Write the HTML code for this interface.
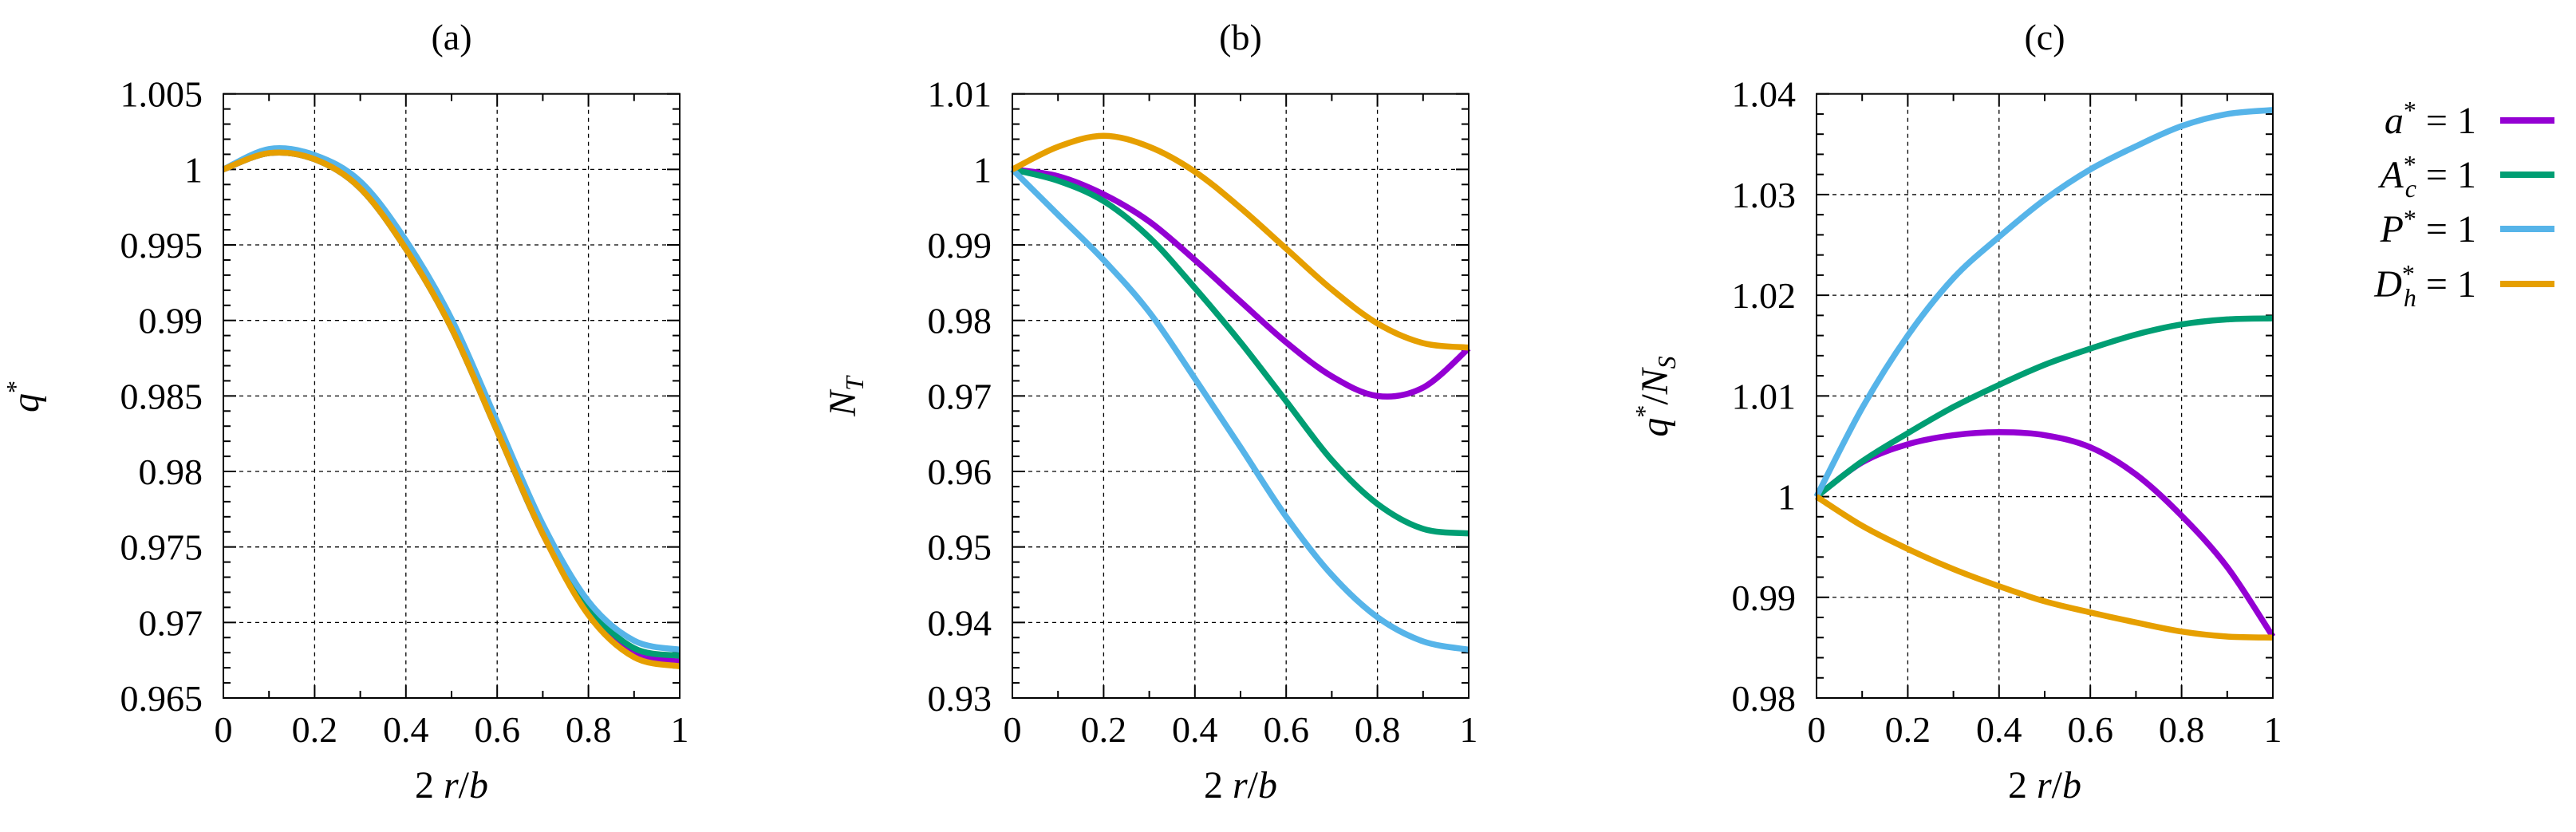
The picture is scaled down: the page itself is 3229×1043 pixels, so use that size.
<!DOCTYPE html>
<html><head><meta charset="utf-8"><style>
html,body{margin:0;padding:0;background:#fff;}
svg{display:block;font-family:"Liberation Serif",serif;}
</style></head><body>
<svg id="fig" width="3229" height="1043" viewBox="0 0 3229 1043" xmlns="http://www.w3.org/2000/svg"></svg>
<script>
const xs = [0,0.1,0.2,0.3,0.4,0.5,0.6,0.7,0.8,0.9,1.0];
const xTickLabels = ["0","0.2","0.4","0.6","0.8","1"];
// Panel a
const aPurple = [1.0,1.00108,1.00067,0.99875,0.99473,0.98948,0.98267,0.97586,0.9707,0.9680,0.9674];
const aGreen  = [1.0,1.00108,1.00067,0.99875,0.99473,0.98948,0.98267,0.97590,0.9710,0.9683,0.9678];
const aBlue   = [1.0,1.00135,1.00095,0.9992,0.9953,0.9901,0.9833,0.9765,0.9714,0.9688,0.9682];
const aOrange = [1.0,1.00108,1.00067,0.99875,0.99473,0.98948,0.98267,0.97586,0.9705,0.9677,0.9671];
const aTicks = ["1.005","1","0.995","0.99","0.985","0.98","0.975","0.97","0.965"];
// Panel b
const bPurple = [1.0,0.9991,0.9967,0.9931,0.9880,0.9825,0.9771,0.9726,0.9700,0.9711,0.9763];
const bGreen  = [1.0,0.9985,0.9958,0.9910,0.9843,0.9771,0.9693,0.9615,0.9557,0.9524,0.9518];
const bBlue   = [1.0,0.9940,0.9880,0.9811,0.9723,0.9632,0.9540,0.9463,0.9407,0.9375,0.9364];
const bOrange = [1.0,1.0030,1.00445,1.0030,0.9997,0.9949,0.9895,0.9841,0.9796,0.9770,0.9764];
const bTicks = ["1.01","1","0.99","0.98","0.97","0.96","0.95","0.94","0.93"];
// Panel c
const cPurple = [1.0,1.0034,1.0052,1.0061,1.0064,1.0061,1.0049,1.0022,0.9981,0.9930,0.9861];
const cGreen  = [1.0,1.0035,1.0063,1.0089,1.0111,1.0131,1.0147,1.0161,1.0171,1.0176,1.0177];
const cBlue   = [1.0,1.0088,1.0160,1.0217,1.0258,1.0295,1.0325,1.0348,1.0368,1.0380,1.0384];
const cOrange = [1.0,0.9971,0.9948,0.9928,0.9911,0.9896,0.9885,0.9875,0.9866,0.9861,0.9860];
const cTicks = ["1.04","1.03","1.02","1.01","1","0.99","0.98"];

const NS="http://www.w3.org/2000/svg";
const svg=document.getElementById('fig');
const COLORS={purple:"#9400d3",green:"#009e73",blue:"#56b4e9",orange:"#e69f00"};
function el(tag,attrs,parent){const e=document.createElementNS(NS,tag);for(const k in attrs)e.setAttribute(k,attrs[k]);(parent||svg).appendChild(e);return e;}

function panel(id,L,R,ymax,ymin,yTicks,series,title,ylabelFn,ylx){
  const T=117.7,B=875;
  const g=el('g',{});
  
  
  const X=v=>L+(R-L)*v;
  const Y=v=>T+(B-T)*(ymax-v)/(ymax-ymin);
  const n=yTicks.length-1, step=(ymax-ymin)/n;
  for(let i=1;i<5;i++){const gl=el('line',{x1:X(i*0.2),x2:X(i*0.2),y1:T,y2:B,stroke:"#000","stroke-width":1.3,"stroke-dasharray":"5,5"},g);}
  for(let i=1;i<n;i++){const yy=Y(ymax-i*step);const gl=el('line',{x1:L,x2:R,y1:yy,y2:yy,stroke:"#000","stroke-width":1.3,"stroke-dasharray":"5,5"},g);}
  for(let i=0;i<=10;i++){const len=i%2==0?16:9;const xx=X(i/10);
    el('line',{x1:xx,x2:xx,y1:B,y2:B-len,stroke:"#000","stroke-width":2},g);
    el('line',{x1:xx,x2:xx,y1:T,y2:T+len,stroke:"#000","stroke-width":2},g);}
  for(let i=0;i<=n*5;i++){const len=i%5==0?16:9;const yy=Y(ymax-i*step/5);
    el('line',{x1:L,x2:L+len,y1:yy,y2:yy,stroke:"#000","stroke-width":2},g);
    el('line',{x1:R,x2:R-len,y1:yy,y2:yy,stroke:"#000","stroke-width":2},g);}
  series.forEach(s=>{
    const pts=xs.map((x,i)=>[X(x),Y(s.v[i])]);
    let d="M"+pts[0][0]+","+pts[0][1];
    for(let i=0;i<pts.length-1;i++){
      const p0=pts[Math.max(0,i-1)],p1=pts[i],p2=pts[i+1],p3=pts[Math.min(pts.length-1,i+2)];
      const c1=[p1[0]+(p2[0]-p0[0])/6,p1[1]+(p2[1]-p0[1])/6];
      const c2=[p2[0]-(p3[0]-p1[0])/6,p2[1]-(p3[1]-p1[1])/6];
      d+=" C"+c1[0]+","+c1[1]+" "+c2[0]+","+c2[1]+" "+p2[0]+","+p2[1];
    }
    const p=el('path',{d:d,fill:"none",stroke:COLORS[s.c],"stroke-width":7.5,"stroke-linejoin":"round"},g);
    
    
  });
  const fr=el('rect',{x:L,y:T,width:R-L,height:B-T,fill:"none",stroke:"#000","stroke-width":2},g);
  
  
  yTicks.forEach((t,i)=>{const tx=el('text',{x:L-26,y:Y(ymax-i*step)+16,"font-size":46,"text-anchor":"end"},g);tx.textContent=t;
    });
  xTickLabels.forEach((t,i)=>{const tx=el('text',{x:X(i*0.2),y:930,"font-size":46,"text-anchor":"middle"},g);tx.textContent=t;
    });
  const ti=el('text',{x:(L+R)/2,y:62,"font-size":46,"text-anchor":"middle"},g);ti.textContent=title;
  
  const xl=el('text',{x:(L+R)/2,y:1000,"font-size":48,"text-anchor":"middle"},g);
  xl.innerHTML='2 <tspan font-style="italic">r</tspan>/<tspan font-style="italic">b</tspan>';
  
  const yl=el('text',{x:0,y:0,"font-size":48,"text-anchor":"middle",transform:"translate("+ylx+",497) rotate(-90)"},g);
  yl.innerHTML=ylabelFn;
  
}
panel('a',280,852,1.005,0.965,aTicks,[{c:'purple',v:aPurple},{c:'green',v:aGreen},{c:'blue',v:aBlue},{c:'orange',v:aOrange}],'(a)','<tspan font-style="italic">q</tspan><tspan font-size="32" dy="-18">*</tspan>',48);
panel('b',1269,1841,1.01,0.93,bTicks,[{c:'purple',v:bPurple},{c:'green',v:bGreen},{c:'blue',v:bBlue},{c:'orange',v:bOrange}],'(b)','<tspan font-style="italic">N</tspan><tspan font-style="italic" font-size="32" dy="10">T</tspan>',1072);
panel('c',2277,2849,1.04,0.98,cTicks,[{c:'purple',v:cPurple},{c:'green',v:cGreen},{c:'blue',v:cBlue},{c:'orange',v:cOrange}],'(c)','<tspan font-style="italic">q</tspan><tspan font-size="32" dy="-18">*</tspan><tspan dy="18">/</tspan><tspan font-style="italic">N</tspan><tspan font-style="italic" font-size="32" dy="10">S</tspan>',2090);

const legNames=[['purple','a','',151],['green','A','c',219],['blue','P','',287],['orange','D','h',356]];
legNames.forEach(l=>{
  const g=el('g',{});
  
  
  el('line',{x1:3134,x2:3202,y1:l[3],y2:l[3],stroke:COLORS[l[0]],"stroke-width":8},g);
  const t=el('text',{x:3104,y:l[3]+16,"font-size":48,"text-anchor":"end"},g);
  let h='<tspan font-style="italic">'+l[1]+'</tspan><tspan font-size="32" dy="-18">*</tspan>';
  if(l[2]) h+='<tspan font-style="italic" font-size="32" dx="-14" dy="30">'+l[2]+'</tspan><tspan dy="-12"> = 1</tspan>';
  else h+='<tspan dy="18"> = 1</tspan>';
  t.innerHTML=h;
});
</script>
</body></html>
